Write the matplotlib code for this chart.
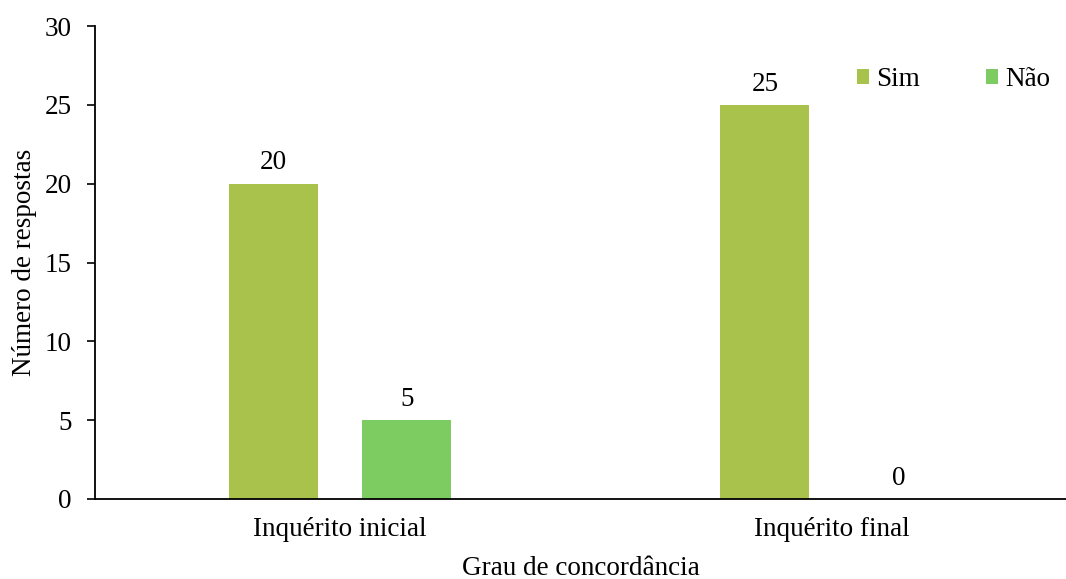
import matplotlib
matplotlib.use("Agg")
import matplotlib.pyplot as plt
import numpy as np

categories = ["Inquérito inicial", "Inquérito final"]
series_names = ["Sim", "Não"]
sim_values = [20, 25]
nao_values = [5, 0]
yticks = [0, 5, 10, 15, 20, 25, 30]

plt.rcParams['font.family'] = ['Liberation Serif', 'DejaVu Serif']
plt.rcParams['font.size'] = 19.5

fig = plt.figure(figsize=(10.66, 5.79), dpi=100)
ax = fig.add_axes([95/1066, 80/579, 1 - 95/1066, (499-26)/579])

x = np.arange(len(categories))
w = 0.181
off = 0.136
colors = ["#A9C24B", "#7DCC62"]
b1 = ax.bar(x - off, sim_values, w, color=colors[0], label=series_names[0])
b2 = ax.bar(x + off, nao_values, w, color=colors[1], label=series_names[1])
for bars in (b1, b2):
    ax.bar_label(bars, padding=6, fontsize=19.5)

ax.set_xlim(-0.498, 1.476)
ax.set_ylim(0, 30)
ax.set_yticks(yticks)
ax.set_xticks(x)
ax.set_xticklabels(categories)
ax.tick_params(axis='x', length=0, pad=13)
ax.tick_params(axis='y', length=6, width=1.2, direction='out', pad=11)
for s in ("top", "right"):
    ax.spines[s].set_visible(False)
for s in ("left", "bottom"):
    ax.spines[s].set_linewidth(1.3)
ax.set_ylabel("Número de respostas", labelpad=5)
ax.set_xlabel("Grau de concordância", labelpad=10)

fig.legend(loc="upper left", bbox_to_anchor=(857/1066, 1 - 67/579), ncol=2,
           frameon=False, handlelength=0.45, handleheight=0.45, handletextpad=0.25,
           columnspacing=2.45, borderpad=0, borderaxespad=0)

fig.savefig("out.png", dpi=100)
